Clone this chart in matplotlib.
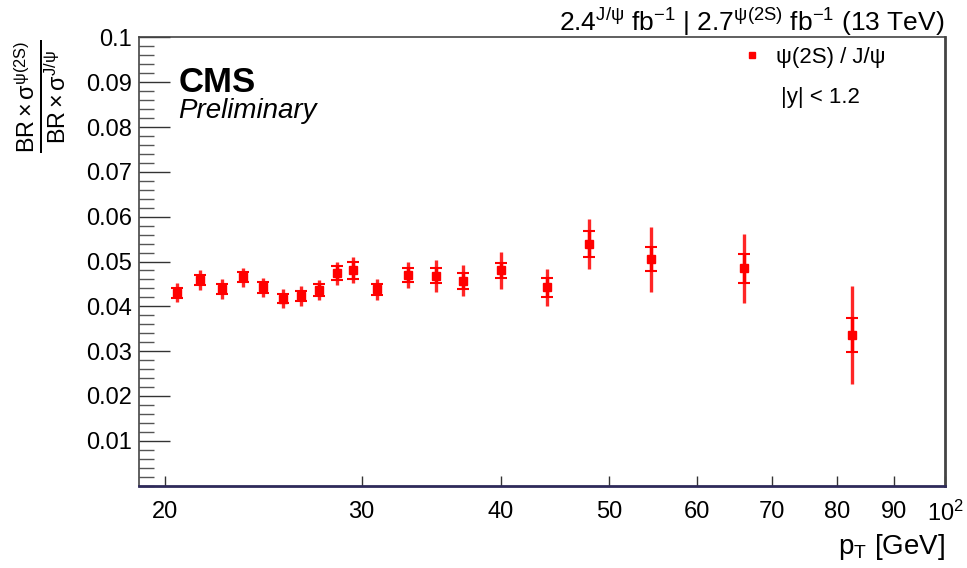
import numpy as np
import matplotlib
matplotlib.use('Agg')
import matplotlib.pyplot as plt
from matplotlib.lines import Line2D
from matplotlib.ticker import FixedLocator, MultipleLocator, NullLocator

plt.rcParams['font.family'] = ['Liberation Sans', 'DejaVu Sans']
plt.rcParams['mathtext.fontset'] = 'custom'
plt.rcParams['mathtext.rm'] = 'Liberation Sans'
plt.rcParams['mathtext.it'] = 'Liberation Sans:italic'
plt.rcParams['mathtext.bf'] = 'Liberation Sans:bold'

# psi(2S)/J/psi ratio vs pT, |y| < 1.2
pt = [20.5, 21.5, 22.5, 23.5, 24.5, 25.5, 26.5, 27.5, 28.5, 29.5,
      31.0, 33.0, 35.0, 37.0, 40.0, 44.0, 48.0, 54.5, 66.0, 82.6]
ratio = [0.0430, 0.0459, 0.0438, 0.0465, 0.0442, 0.0417, 0.0423, 0.0436, 0.0474, 0.0481,
         0.0438, 0.0470, 0.0468, 0.0457, 0.0480, 0.0442, 0.0539, 0.0505, 0.0485, 0.0336]
err_tot = [0.0021, 0.0023, 0.0022, 0.0021, 0.0022, 0.0021, 0.0022, 0.0023, 0.0026, 0.0029,
           0.0023, 0.0029, 0.0035, 0.0035, 0.0041, 0.0042, 0.0056, 0.0072, 0.0077, 0.0109]
err_stat = [0.0011, 0.0012, 0.0011, 0.0011, 0.0012, 0.0010, 0.0012, 0.0014, 0.0016, 0.0019,
            0.0012, 0.0016, 0.0017, 0.0018, 0.0017, 0.0021, 0.0030, 0.0027, 0.0032, 0.0039]

xticks = [20, 30, 40, 50, 60, 70, 80, 90, 100]
xticklabels = ['20', '30', '40', '50', '60', '70', '80', '90', r'10$^{\mathrm{2}}$']
yticks = [0.01, 0.02, 0.03, 0.04, 0.05, 0.06, 0.07, 0.08, 0.09, 0.1]
yticklabels = ['0.01', '0.02', '0.03', '0.04', '0.05', '0.06', '0.07', '0.08', '0.09', '0.1']

fig = plt.figure(figsize=(9.67, 5.68), dpi=100)
ax = fig.add_axes([0.1437, 0.1452, 0.8335, 0.7888])

red = '#ff0000'
ax.errorbar(pt, ratio, yerr=err_tot, fmt='none', ecolor=red, elinewidth=2.4, capsize=0, alpha=0.85)
ax.errorbar(pt, ratio, yerr=err_stat, fmt='none', ecolor=red, elinewidth=2.4,
            capsize=4, capthick=1.5)
ax.plot(pt, ratio, 's', color=red, markersize=5.5, linestyle='none')

ax.set_xscale('log')
ax.set_xlim(18.95, 100)
ax.set_ylim(0, 0.1)

ax.xaxis.set_major_locator(FixedLocator(xticks))
ax.xaxis.set_minor_locator(NullLocator())
ax.set_xticklabels(xticklabels)
ax.yaxis.set_minor_locator(MultipleLocator(0.002))
ax.set_yticks(yticks)
ax.set_yticklabels(yticklabels)

ax.tick_params(axis='x', which='major', direction='in', length=7, width=1, pad=11,
               labelsize=17, color='#333333', top=False)
ax.tick_params(axis='y', which='major', direction='in', length=22, width=1, pad=5,
               labelsize=17, color='#333333', right=False)
ax.tick_params(axis='y', which='minor', direction='in', length=11, width=1,
               color='#555555', right=False)

for side in ['left', 'top', 'right']:
    ax.spines[side].set_color('#444444')
    ax.spines[side].set_linewidth(1.2)
ax.spines['right'].set_linewidth(2)
ax.spines['bottom'].set_color('#2e2a5a')
ax.spines['bottom'].set_linewidth(2)

fig.text(0.977, 0.962,
         r'2.4$^{\mathrm{J/ψ}}$ fb$^{\mathrm{-1}}$ | 2.7$^{\mathrm{ψ(2S)}}$ fb$^{\mathrm{-1}}$ (13 TeV)',
         ha='right', va='center', fontsize=19)

ax.text(0.049, 0.9, 'CMS', transform=ax.transAxes, fontsize=25, fontweight='bold',
        ha='left', va='center')
ax.text(0.048, 0.835, 'Preliminary', transform=ax.transAxes, fontsize=20, fontstyle='italic',
        ha='left', va='center')

handle = Line2D([], [], marker='s', color=red, linestyle='none', markersize=5)
ax.legend(handles=[handle], labels=['ψ(2S) / J/ψ'], loc='center left',
          bbox_to_anchor=(0.722, 0.955), frameon=False, fontsize=16, handletextpad=0.6,
          handlelength=1.0)
ax.text(0.796, 0.865, '|y| < 1.2', transform=ax.transAxes, fontsize=16,
        ha='left', va='center')

fig.text(0.977, 0.037, r'p$_{\mathrm{T}}$ [GeV]', ha='right', va='center', fontsize=20)
fig.text(0.042, 0.83,
         r'$\frac{\mathrm{BR\times σ^{ψ(2S)}}}{\mathrm{BR\times σ^{J/ψ}}}$',
         rotation=90, ha='center', va='center', fontsize=24)

fig.savefig('out.png', dpi=100)
